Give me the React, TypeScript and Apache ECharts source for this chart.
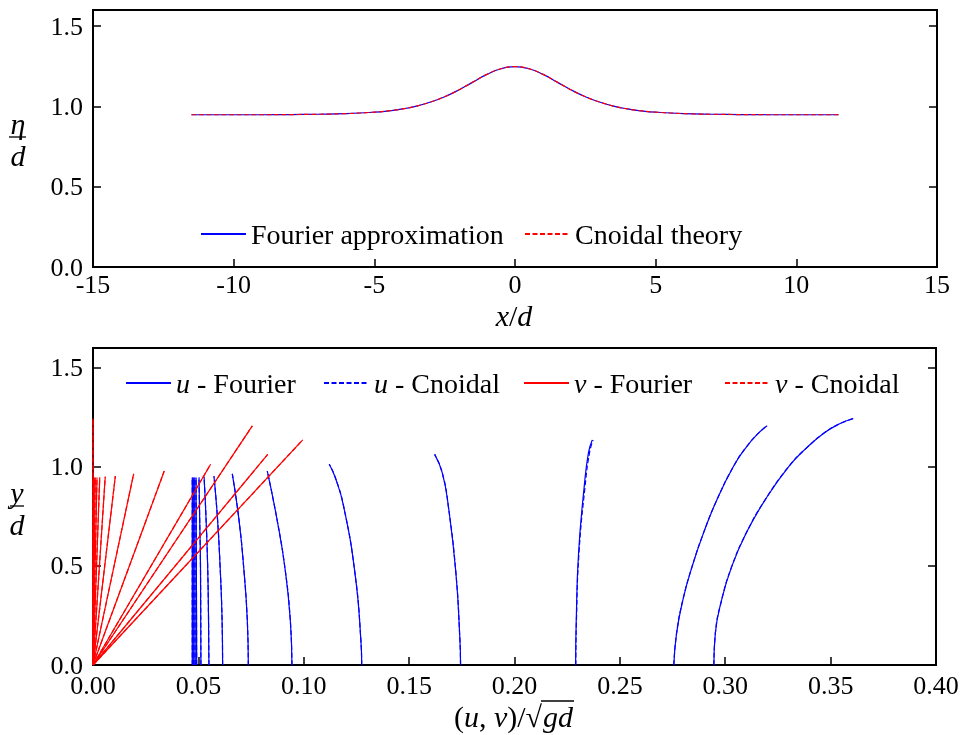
import React, { useEffect, useRef } from "react";
import * as echarts from "echarts";

const FONT = "Liberation Serif";
const BLUE = "#0000ff";
const RED = "#ff0000";

// ---------- Top panel: free surface elevation ----------
const etaX = [-11.5, -11, -10, -9, -8, -7, -6, -5, -4.5, -4, -3.5, -3, -2.5, -2, -1.5, -1, -0.5, 0,
  0.5, 1, 1.5, 2, 2.5, 3, 3.5, 4, 4.5, 5, 6, 7, 8, 9, 10, 11, 11.5];
const etaFourier = [0.948, 0.948, 0.948, 0.948, 0.949, 0.951, 0.955, 0.964, 0.972, 0.984, 1.002, 1.027,
  1.060, 1.102, 1.151, 1.199, 1.234, 1.247, 1.234, 1.199, 1.151, 1.102, 1.060, 1.027, 1.002, 0.984,
  0.972, 0.964, 0.955, 0.951, 0.949, 0.948, 0.948, 0.948, 0.948];
const etaCnoidal = [0.948, 0.948, 0.948, 0.948, 0.949, 0.951, 0.955, 0.964, 0.972, 0.984, 1.002, 1.027,
  1.060, 1.102, 1.151, 1.199, 1.234, 1.247, 1.234, 1.199, 1.151, 1.102, 1.060, 1.027, 1.002, 0.984,
  0.972, 0.964, 0.955, 0.951, 0.949, 0.948, 0.948, 0.948, 0.948];

const xTicksTop = { min: -15, max: 15, interval: 5 };
const yTicks = { min: 0, max: 1.6, interval: 0.5 };
const xTicksBottom = { min: 0, max: 0.4, interval: 0.05 };

// ---------- Bottom panel: velocity profiles [u, y] ----------
const uFourierProfiles: number[][][] = [
  [[0.0471, 0], [0.0471, 0.946]],
  [[0.0475, 0], [0.0474, 0.946]],
  [[0.0479, 0], [0.0478, 0.946]],
  [[0.0485, 0], [0.0483, 0.946]],
  [[0.0492, 0], [0.0489, 0.946]],
  [[0.0512, 0], [0.0510, 0.5], [0.0506, 0.75], [0.0503, 0.947]],
  [[0.0550, 0], [0.0548, 0.25], [0.0544, 0.5], [0.0536, 0.75], [0.0527, 0.950]],
  [[0.0615, 0], [0.0612, 0.25], [0.0603, 0.5], [0.0590, 0.75], [0.0574, 0.953]],
  [[0.0737, 0], [0.0732, 0.23], [0.0716, 0.48], [0.0693, 0.73], [0.0661, 0.965]],
  [[0.0944, 0], [0.0936, 0.23], [0.0912, 0.48], [0.0874, 0.73], [0.0827, 0.979]],
  [[0.1275, 0], [0.1271, 0.127], [0.1243, 0.464], [0.1189, 0.802], [0.1150, 0.945], [0.1121, 1.013]],
  [[0.1744, 0], [0.1741, 0.127], [0.1722, 0.464], [0.1686, 0.802], [0.1657, 0.971], [0.1621, 1.063]],
  [[0.2290, 0], [0.2293, 0.228], [0.2304, 0.565], [0.2331, 0.903], [0.2351, 1.072], [0.2369, 1.136]],
  [[0.2756, 0], [0.2769, 0.160], [0.2799, 0.329], [0.2843, 0.498], [0.2897, 0.667], [0.2961, 0.835],
    [0.3040, 1.004], [0.3100, 1.1], [0.3160, 1.173], [0.3199, 1.207]],
  [[0.2946, 0], [0.2953, 0.160], [0.2983, 0.329], [0.3031, 0.498], [0.3100, 0.667], [0.3190, 0.835],
    [0.3303, 1.004], [0.3390, 1.1], [0.3472, 1.173], [0.3538, 1.215], [0.3607, 1.244]],
];
const uCnoidalCrestSide: number[][] = [[0.2291, 0], [0.2294, 0.228], [0.2306, 0.565], [0.2335, 0.903],
  [0.2356, 1.072], [0.2373, 1.136]];
const uCnoidalProfiles: number[][][] = [
  ...uFourierProfiles.slice(0, 12),
  uCnoidalCrestSide,
  ...uFourierProfiles.slice(13),
];

// v profiles: tops [v, y] of lines starting at the bed origin
const vFourierTops: number[][] = [
  [0.0001, 0.946], [0.0003, 0.946], [0.0006, 0.946], [0.0011, 0.946], [0.0019, 0.946],
  [0.0032, 0.947], [0.0058, 0.950], [0.0106, 0.953], [0.0193, 0.965], [0.0338, 0.979],
  [0.0558, 1.013], [0.0829, 1.063], [0.0995, 1.136], [0.0756, 1.207], [0.0, 1.244],
];
const vCnoidalTops: number[][] = [
  [0.0001, 0.946], [0.0003, 0.946], [0.0006, 0.946], [0.0011, 0.946], [0.0019, 0.946],
  [0.0032, 0.947], [0.0058, 0.950], [0.0106, 0.953], [0.0193, 0.965], [0.0338, 0.979],
  [0.0558, 1.013], [0.0829, 1.063], [0.0995, 1.136], [0.0756, 1.207], [0.0, 1.244],
];

function lineSeries(name: string, data: number[][], color: string, dashed: boolean, xi: number, yi: number) {
  return {
    name,
    type: "line",
    xAxisIndex: xi,
    yAxisIndex: yi,
    data,
    symbol: "none",
    showSymbol: false,
    smooth: data.length > 2 ? 0.5 : false,
    silent: true,
    lineStyle: { color, width: 1.2, type: dashed ? [5, 2.5] : "solid" },
    itemStyle: { color },
  };
}

const tickStyle = { show: true, inside: true, length: 8, lineStyle: { color: "#000", width: 1.5 } };

function xAxis(gridIndex: number, t: { min: number; max: number; interval: number }, digits: number, margin: number) {
  return {
    type: "value", gridIndex, min: t.min, max: t.max, interval: t.interval,
    axisLine: { show: true, onZero: false, lineStyle: { color: "#000", width: 2 } },
    axisTick: tickStyle,
    splitLine: { show: false },
    axisLabel: { color: "#000", fontFamily: FONT, fontSize: 26, margin, formatter: (v: number) => digits ? v.toFixed(digits) : String(Math.round(v)) },
  };
}
function yAxis(gridIndex: number, right: boolean) {
  return {
    type: "value", gridIndex, min: yTicks.min, max: yTicks.max, interval: yTicks.interval,
    position: right ? "right" : "left",
    axisLine: { show: true, onZero: false, lineStyle: { color: "#000", width: 2 } },
    axisTick: tickStyle,
    splitLine: { show: false },
    axisLabel: right ? { show: false } : { color: "#000", fontFamily: FONT, fontSize: 26, margin: 10, showMaxLabel: false, formatter: (v: number) => v.toFixed(1) },
  };
}

const richItalic28 = { i: { fontStyle: "italic", fontFamily: FONT, fontSize: 28, color: "#000" } };
const richItalic30 = { i: { fontStyle: "italic", fontFamily: FONT, fontSize: 30, color: "#000" } };
const legendCommon = {
  padding: 0, itemWidth: 45, itemHeight: 14, selectedMode: false,
  itemStyle: { opacity: 0 },
  textStyle: { fontFamily: FONT, fontSize: 28, color: "#000", rich: richItalic28 },
};

const txt = (text: string, x: number, y: number, italic: boolean, size: number, align = "center", rich?: any) => ({
  type: "text", x, y,
  style: {
    text, fontFamily: FONT, fontStyle: italic ? "italic" : "normal", fontSize: size, fill: "#000",
    align, verticalAlign: "middle", ...(rich ? { rich } : {}),
  },
});

export default function App() {
  const ref = useRef<HTMLDivElement>(null);
  useEffect(() => {
    const chart = echarts.init(ref.current!, null, { renderer: "svg" });
    const series: any[] = [
      lineSeries("Fourier approximation", etaX.map((x, i) => [x, etaFourier[i]]), BLUE, false, 0, 0),
      lineSeries("Cnoidal theory", etaX.map((x, i) => [x, etaCnoidal[i]]), RED, true, 0, 0),
    ];
    uFourierProfiles.forEach((p) => series.push(lineSeries("u - Fourier", p, BLUE, false, 1, 2)));
    uCnoidalProfiles.forEach((p) => series.push(lineSeries("u - Cnoidal", p, BLUE, true, 1, 2)));
    vFourierTops.forEach((t) => series.push(lineSeries("v - Fourier", [[0, 0], t], RED, false, 1, 2)));
    vCnoidalTops.forEach((t) => series.push(lineSeries("v - Cnoidal", [[0, 0], t], RED, true, 1, 2)));

    const option: any = {
      animation: false,
      grid: [
        { left: 93, top: 10, width: 844, height: 257, show: true, borderColor: "#000", borderWidth: 2 },
        { left: 93, top: 348, width: 843, height: 317, show: true, borderColor: "#000", borderWidth: 2 },
      ],
      xAxis: [xAxis(0, xTicksTop, 0, 4), xAxis(1, xTicksBottom, 2, 7)],
      yAxis: [yAxis(0, false), yAxis(0, true), yAxis(1, false), yAxis(1, true)],
      legend: [
        { ...legendCommon, data: ["Fourier approximation"], left: 200, top: 220 },
        { ...legendCommon, data: ["Cnoidal theory"], left: 524, top: 220 },
        { ...legendCommon, data: ["u - Fourier"], left: 125, top: 369, formatter: () => "{i|u} - Fourier" },
        { ...legendCommon, data: ["u - Cnoidal"], left: 323, top: 369, formatter: () => "{i|u} - Cnoidal" },
        { ...legendCommon, data: ["v - Fourier"], left: 523, top: 369, formatter: () => "{i|v} - Fourier" },
        { ...legendCommon, data: ["v - Cnoidal"], left: 724, top: 369, formatter: () => "{i|v} - Cnoidal" },
      ],
      graphic: [
        txt("η", 18, 123, true, 30),
        { type: "line", shape: { x1: 9, y1: 137, x2: 26, y2: 137 }, style: { stroke: "#000", lineWidth: 1.3 } },
        txt("d", 18, 155, true, 30),

        txt("y", 17, 492, true, 30),
        { type: "line", shape: { x1: 10, y1: 506, x2: 24, y2: 506 }, style: { stroke: "#000", lineWidth: 1.3 } },
        txt("d", 17, 524, true, 30),

        txt("{i|x}/{i|d}", 514, 315, false, 30, "center", richItalic30),

        txt("({i|u}, {i|v})/√", 542, 716, false, 30, "right", richItalic30),
        txt("gd", 543, 716, true, 30, "left"),
        { type: "line", shape: { x1: 541, y1: 701, x2: 574, y2: 701 }, style: { stroke: "#000", lineWidth: 1.3 } },
      ],
      series,
    };
    chart.setOption(option);
    return () => chart.dispose();
  }, []);
  return <div ref={ref} style={{ position: "fixed", left: 0, top: 0, width: 966, height: 735 }} />;
}
